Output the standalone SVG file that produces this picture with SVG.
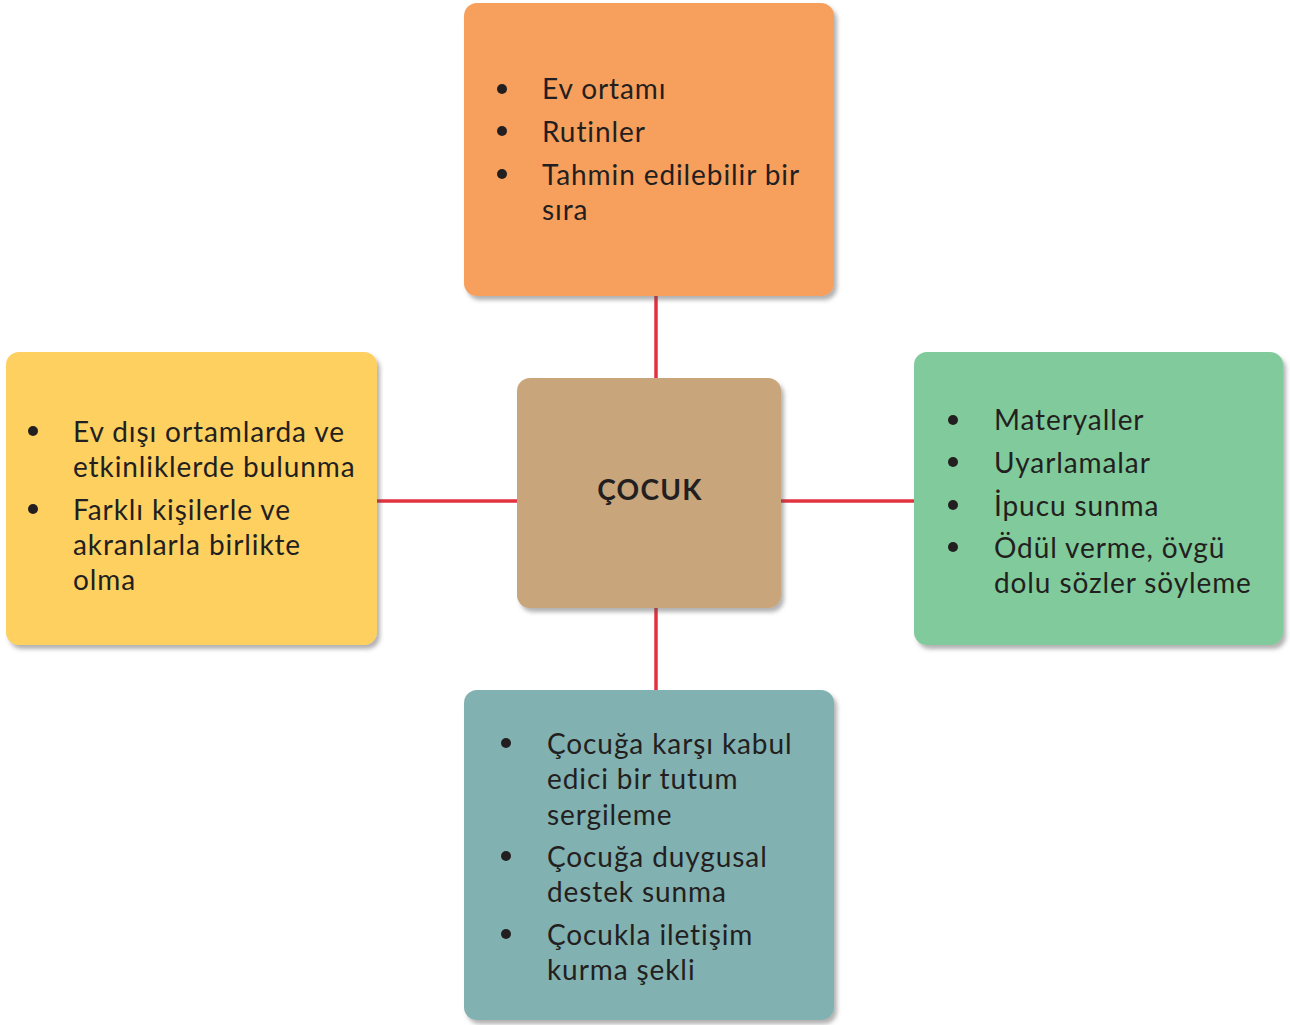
<svg xmlns="http://www.w3.org/2000/svg" width="1290" height="1025" viewBox="0 0 1290 1025">
<style>
.box{filter:url(#sh)}
.t{font-family:Lato,"Noto Sans","Liberation Sans",sans-serif;font-size:28px;fill:#231f20;letter-spacing:0.9px;font-variant-ligatures:none}
.c{font-family:Lato,"Noto Sans","Liberation Sans",sans-serif;font-size:28px;font-weight:bold;fill:#231f20;letter-spacing:1.3px}
.dot{fill:#231f20}
.ln{stroke:#e2323f;stroke-width:3.5;fill:none}
</style>
<defs>
<filter id="sh" x="-10%" y="-10%" width="125%" height="125%">
<feDropShadow dx="3" dy="4" stdDeviation="2" flood-color="#555" flood-opacity="0.45"/>
</filter>
</defs>
<rect width="1290" height="1025" fill="#fff"/>
<g id="connectors">
<line class="ln" x1="656" y1="296" x2="656" y2="378"/>
<line class="ln" x1="656" y1="608" x2="656" y2="690"/>
<line class="ln" x1="377" y1="501" x2="517" y2="501"/>
<line class="ln" x1="781" y1="501" x2="914" y2="501"/>
</g>
<g id="top">
<rect class="box" x="464" y="3" width="370" height="293" rx="13" fill="#f79f5b"/>
<circle class="dot" cx="502" cy="89" r="5"/>
<circle class="dot" cx="502" cy="131" r="5"/>
<circle class="dot" cx="502" cy="174" r="5"/>
<text class="t" x="542" y="99">Ev ortamı</text>
<text class="t" x="542" y="142">Rutinler</text>
<text class="t" x="542" y="185">Tahmin edilebilir bir</text>
<text class="t" x="542" y="220">sıra</text>
</g>
<g id="center">
<rect class="box" x="517" y="378" width="264" height="230" rx="13" fill="#c9a57b"/>
<text class="c" x="650" y="500" text-anchor="middle">ÇOCUK</text>
</g>
<g id="left">
<rect class="box" x="6" y="352" width="371" height="293" rx="13" fill="#fdd05e"/>
<circle class="dot" cx="33" cy="431" r="5"/>
<circle class="dot" cx="33" cy="509" r="5"/>
<text class="t" x="73" y="442">Ev dışı ortamlarda ve</text>
<text class="t" x="73" y="477">etkinliklerde bulunma</text>
<text class="t" x="73" y="520">Farklı kişilerle ve</text>
<text class="t" x="73" y="555">akranlarla birlikte</text>
<text class="t" x="73" y="590">olma</text>
</g>
<g id="right">
<rect class="box" x="914" y="352" width="369" height="293" rx="13" fill="#80ca9b"/>
<circle class="dot" cx="953" cy="420" r="5"/>
<circle class="dot" cx="953" cy="462" r="5"/>
<circle class="dot" cx="953" cy="505" r="5"/>
<circle class="dot" cx="953" cy="547" r="5"/>
<text class="t" x="994" y="430">Materyaller</text>
<text class="t" x="994" y="473">Uyarlamalar</text>
<text class="t" x="994" y="516">İpucu sunma</text>
<text class="t" x="994" y="558">Ödül verme, övgü</text>
<text class="t" x="994" y="593">dolu sözler söyleme</text>
</g>
<g id="bottom">
<rect class="box" x="464" y="690" width="370" height="330" rx="13" fill="#82b1b1"/>
<circle class="dot" cx="506" cy="743" r="5"/>
<circle class="dot" cx="506" cy="856" r="5"/>
<circle class="dot" cx="506" cy="934" r="5"/>
<text class="t" x="547" y="754">Çocuğa karşı kabul</text>
<text class="t" x="547" y="789">edici bir tutum</text>
<text class="t" x="547" y="825">sergileme</text>
<text class="t" x="547" y="867">Çocuğa duygusal</text>
<text class="t" x="547" y="902">destek sunma</text>
<text class="t" x="547" y="945">Çocukla iletişim</text>
<text class="t" x="547" y="980">kurma şekli</text>
</g>
</svg>
